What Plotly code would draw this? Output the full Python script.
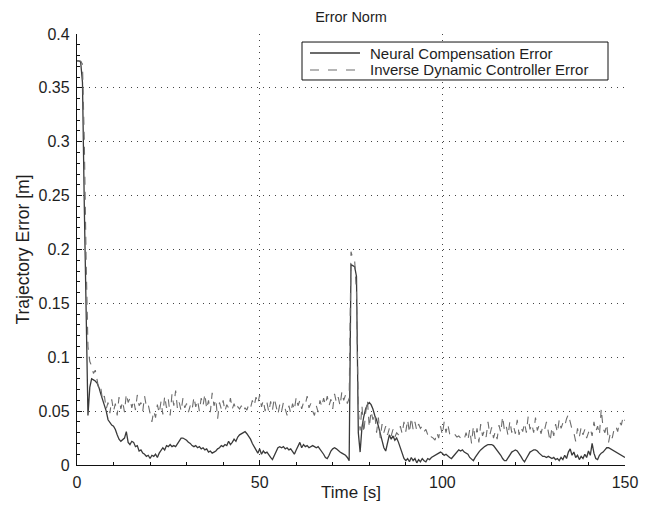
import numpy as np
import plotly.graph_objects as go

# sample times [s]
time = np.arange(0, 150.25, 0.5)

neural_error = [
    .375, .375, .374, .355, .24, .12, .046, .072, .080, .079,
    .078, .076, .072, .066, .061, .056, .050, .042, .039, .037,
    .036, .033, .028, .024, .022, .024, .025, .031, .021, .019,
    .022, .021, .017, .018, .013, .014, .011, .010, .008, .009,
    .006, .009, .008, .010, .007, .011, .013, .016, .014, .018,
    .017, .019, .017, .018, .017, .020, .023, .025, .025, .024,
    .023, .021, .020, .018, .017, .018, .016, .017, .015, .016,
    .014, .015, .012, .013, .011, .012, .013, .015, .016, .018,
    .017, .019, .018, .022, .019, .021, .024, .022, .026, .028,
    .029, .030, .031, .029, .027, .024, .020, .017, .015, .011,
    .015, .010, .013, .011, .012, .009, .007, .005, .009, .013,
    .016, .017, .016, .017, .015, .016, .014, .015, .012, .010,
    .014, .018, .021, .016, .019, .017, .018, .016, .017, .018,
    .017, .016, .017, .015, .013, .010, .007, .006, .009, .013,
    .015, .016, .015, .013, .012, .011, .010, .009, .007, .004,
    .186, .185, .184, .175, .030, .012, .035, .045, .052, .056,
    .058, .056, .052, .046, .042, .036, .030, .024, .016, .013,
    .022, .028, .024, .027, .023, .025, .021, .016, .010, .006,
    .004, .006, .003, .007, .004, .006, .002, .005, .003, .006,
    .004, .003, .006, .005, .007, .008, .009, .010, .011, .012,
    .011, .009, .010, .008, .007, .006, .008, .011, .013, .014,
    .013, .014, .012, .011, .010, .007, .005, .004, .007, .010,
    .012, .014, .016, .017, .018, .019, .019, .019, .018, .016,
    .014, .012, .009, .006, .004, .004, .007, .010, .012, .013,
    .014, .013, .011, .008, .005, .003, .006, .009, .012, .013,
    .014, .014, .013, .011, .009, .008, .008, .007, .008, .007,
    .006, .007, .005, .006, .004, .007, .005, .009, .006, .012,
    .015, .009, .012, .007, .009, .005, .008, .006, .010, .007,
    .013, .009, .020, .011, .006, .005, .009, .011, .012, .014,
    .016, .016, .015, .014, .013, .012, .011, .010, .009, .008,
    .007,
]

inverse_dynamic_error = [
    .375, .375, .375, .372, .30, .19, .11, .096, .092, .085,
    .088, .079, .070, .072, .060, .064, .052, .058, .048, .061,
    .050, .057, .046, .063, .052, .059, .049, .066, .058, .062,
    .053, .060, .051, .065, .055, .058, .050, .064, .054, .056,
    .048, .040, .050, .044, .056, .048, .059, .047, .064, .053,
    .061, .046, .066, .055, .069, .052, .058, .050, .062, .053,
    .057, .049, .055, .051, .063, .054, .060, .050, .062, .055,
    .066, .052, .060, .049, .067, .055, .061, .043, .058, .052,
    .060, .050, .056, .053, .062, .052, .057, .051, .054, .052,
    .055, .050, .053, .051, .056, .053, .060, .055, .063, .057,
    .065, .054, .060, .050, .058, .049, .059, .051, .062, .053,
    .047, .056, .050, .058, .052, .046, .055, .048, .057, .051,
    .063, .055, .060, .052, .058, .056, .064, .053, .057, .050,
    .046, .055, .049, .060, .054, .062, .056, .064, .055, .061,
    .052, .066, .058, .063, .055, .068, .060, .065, .057, .062,
    .198, .192, .190, .160, .050, .032, .055, .030, .048, .060,
    .035, .050, .042, .048, .030, .044, .025, .038, .030, .036,
    .028, .034, .027, .033, .026, .030, .028, .036, .029, .040,
    .031, .042, .030, .044, .033, .040, .032, .038, .034, .036,
    .031, .033, .028, .030, .026, .025, .023, .030, .025, .036,
    .028, .040, .030, .038, .029, .030, .027, .028, .026, .027,
    .025, .026, .024, .030, .023, .033, .020, .036, .024, .034,
    .021, .038, .027, .032, .026, .040, .028, .035, .025, .031,
    .024, .037, .030, .045, .032, .036, .027, .041, .030, .036,
    .029, .042, .028, .035, .031, .039, .030, .045, .033, .038,
    .030, .044, .032, .037, .029, .036, .033, .040, .031, .022,
    .035, .027, .038, .030, .042, .034, .039, .036, .043, .047,
    .040, .033, .030, .022, .034, .026, .035, .028, .033, .025,
    .030, .034, .027, .040, .031, .036, .028, .052, .034, .030,
    .038, .021, .030, .025, .033, .036, .031, .040, .037, .045,
    .041,
]

series_names = ["Neural Compensation Error", "Inverse Dynamic Controller Error"]
x_ticks = [0, 50, 100, 150]
y_ticks = [0, 0.05, 0.1, 0.15, 0.2, 0.25, 0.3, 0.35, 0.4]
y_tick_labels = ["0", "0.05", "0.1", "0.15", "0.2", "0.25", "0.3", "0.35", "0.4"]

FONT = "Liberation Sans, Arial, Helvetica, sans-serif"
TXT = "#1e1e1e"
SOLID_COLOR = "#3a3a3a"
DASH_COLOR = "#6c6c6c"
DASH = "8px,7px"

fig = go.Figure()
fig.add_trace(go.Scatter(
    x=time, y=neural_error, mode="lines", name=series_names[0],
    line=dict(color=SOLID_COLOR, width=1.3), showlegend=False,
))
fig.add_trace(go.Scatter(
    x=time, y=inverse_dynamic_error, mode="lines", name=series_names[1],
    line=dict(color=DASH_COLOR, width=1.1, dash=DASH), showlegend=False,
))

# legend box (MATLAB-style, compact)
fig.add_shape(type="rect", xref="paper", yref="paper",
              x0=0.4106, x1=0.9690, y0=0.8933, y1=0.9814,
              line=dict(color="#111", width=1), fillcolor="white", layer="above")
legend_rows = [(0.9559, SOLID_COLOR, "solid", 1.3), (0.9165, DASH_COLOR, "9px,9px", 1.1)]
for name, (yy, col, dsh, w) in zip(series_names, legend_rows):
    fig.add_shape(type="line", xref="paper", yref="paper",
                  x0=0.4252, x1=0.5164, y0=yy, y1=yy,
                  line=dict(color=col, width=w, dash=dsh), layer="above")
    fig.add_annotation(xref="paper", yref="paper", x=0.5310, y=yy,
                       xanchor="left", yanchor="middle", showarrow=False,
                       text=name, font=dict(family=FONT, size=15, color=TXT))

grid_dash = "1px,5px"
fig.update_layout(
    width=635, height=494,
    margin=dict(l=69, r=18, t=26, b=37, autoexpand=False),
    paper_bgcolor="white", plot_bgcolor="white",
    font=dict(family=FONT, size=16, color=TXT),
    title=dict(text="Error Norm", x=0.5, xref="paper", xanchor="center",
               y=0.982, yanchor="middle",
               font=dict(family=FONT, size=14.5, color=TXT)),
    showlegend=False,
    xaxis=dict(range=[0, 150], tickvals=x_ticks, ticktext=[str(v) for v in x_ticks],
               automargin=False,
               showgrid=True, gridcolor="#444", griddash=grid_dash, gridwidth=1,
               zeroline=False, showline=True, linecolor="#111", linewidth=1.3,
               ticks="inside", ticklen=5, tickcolor="#111", ticklabelstandoff=3,
               minor=dict(ticks="inside", ticklen=3, dtick=10, tickcolor="#111", showgrid=False),
               title=dict(text="Time [s]", standoff=2, font=dict(size=17)),
               tickfont=dict(size=16)),
    yaxis=dict(range=[0, 0.4], tickvals=y_ticks, ticktext=y_tick_labels,
               automargin=False,
               showgrid=True, gridcolor="#444", griddash=grid_dash, gridwidth=1,
               zeroline=False, showline=True, linecolor="#111", linewidth=1.3,
               ticks="inside", ticklen=5, tickcolor="#111", ticklabelstandoff=3,
               minor=dict(ticks="inside", ticklen=3, dtick=0.01, tickcolor="#111", showgrid=False),
               title=dict(text="Trajectory Error [m]", standoff=4, font=dict(size=17.5)),
               tickfont=dict(size=16)),
)

fig.write_html("out.html")
